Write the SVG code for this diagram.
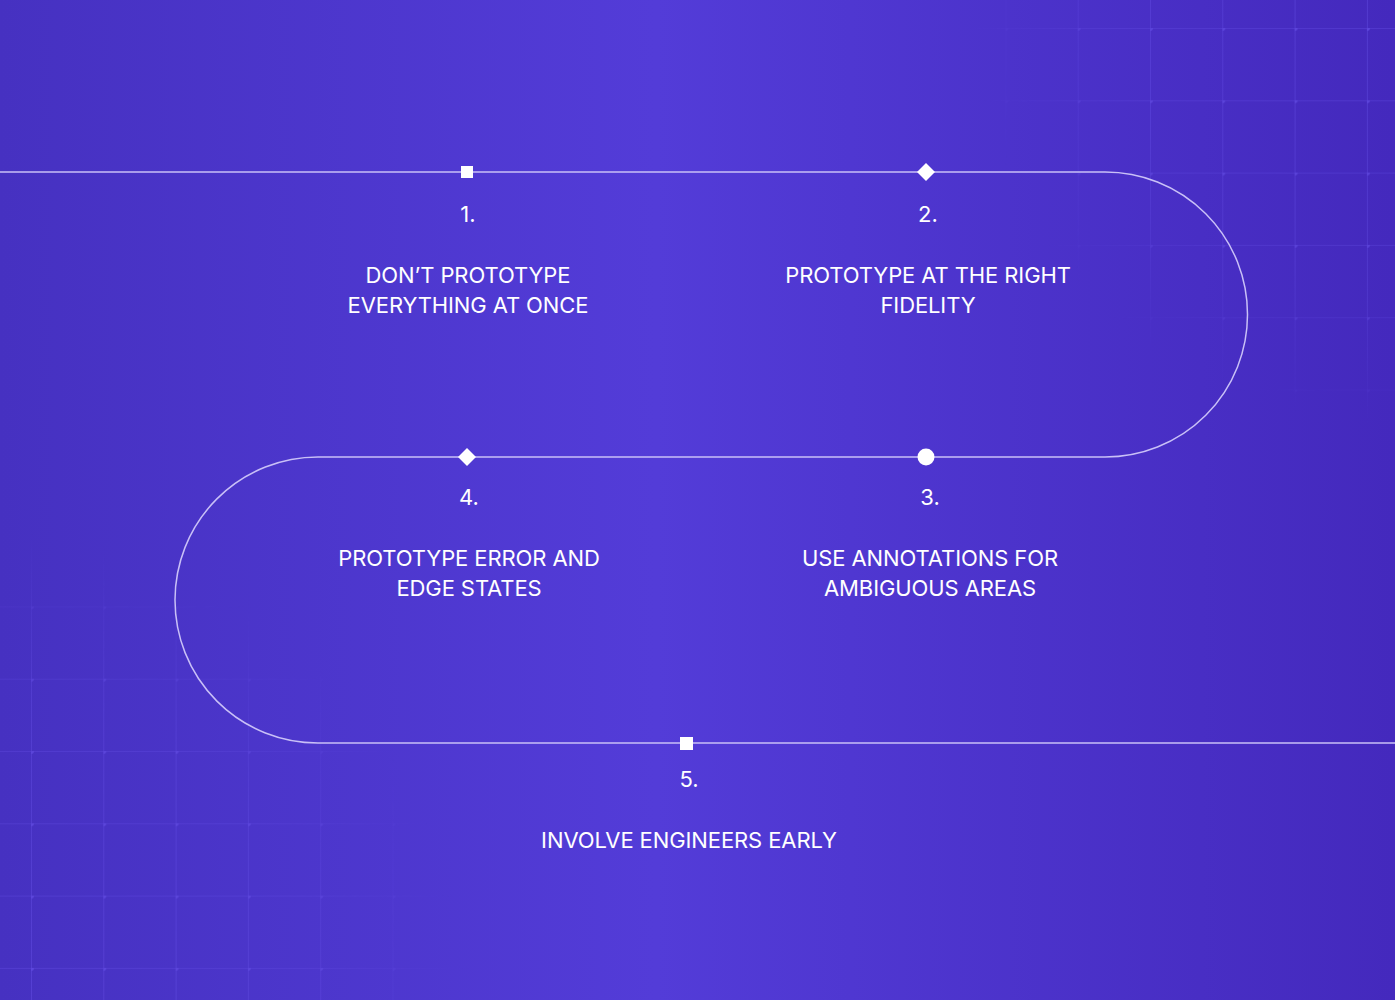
<svg xmlns="http://www.w3.org/2000/svg" width="1395" height="1000" viewBox="0 0 1395 1000">
<defs>
<linearGradient id="bg" x1="0" y1="0" x2="1" y2="0">
<stop offset="0" stop-color="#4631c1"/>
<stop offset="0.47" stop-color="#533cd8"/>
<stop offset="1" stop-color="#4429bd"/>
</linearGradient>
<radialGradient id="fadeTR" cx="1395" cy="0" r="430" gradientUnits="userSpaceOnUse">
<stop offset="0" stop-color="#fff" stop-opacity="1"/>
<stop offset="0.65" stop-color="#fff" stop-opacity="0.8"/>
<stop offset="1" stop-color="#fff" stop-opacity="0"/>
</radialGradient>
<radialGradient id="fadeBL" cx="0" cy="1000" r="470" gradientUnits="userSpaceOnUse">
<stop offset="0" stop-color="#fff" stop-opacity="1"/>
<stop offset="0.65" stop-color="#fff" stop-opacity="0.8"/>
<stop offset="1" stop-color="#fff" stop-opacity="0"/>
</radialGradient>
<mask id="mTR"><rect width="1395" height="1000" fill="url(#fadeTR)"/></mask>
<mask id="mBL"><rect width="1395" height="1000" fill="url(#fadeBL)"/></mask>
<pattern id="gridTR" x="1150" y="28" width="72.3" height="72.3" patternUnits="userSpaceOnUse">
<path d="M0 0H72.3M0 0V72.3" stroke="#6650e6" stroke-width="1.2" fill="none"/>
<circle cx="0" cy="0" r="3" fill="#6650e6"/>
</pattern>
<pattern id="gridBL" x="31" y="28" width="72.3" height="72.3" patternUnits="userSpaceOnUse">
<path d="M0 0H72.3M0 0V72.3" stroke="#6650e6" stroke-width="1.2" fill="none"/>
<circle cx="0" cy="0" r="3" fill="#6650e6"/>
</pattern>
<style>
.path{fill:none;stroke:#c9c0f7;stroke-width:1.5}
.mk{fill:#ffffff}
.num{font-family:Inter,"Liberation Sans",sans-serif;font-size:22px;fill:#ffffff;text-anchor:middle}
.lbl{font-family:Inter,"Liberation Sans",sans-serif;font-size:22px;fill:#ffffff;text-anchor:middle;letter-spacing:-0.1px}
</style>
</defs>
<rect width="1395" height="1000" fill="url(#bg)"/>
<rect width="1395" height="1000" fill="url(#gridTR)" mask="url(#mTR)" opacity="0.75"/>
<rect width="1395" height="1000" fill="url(#gridBL)" mask="url(#mBL)" opacity="0.75"/>
<g id="connectors">
<path class="path" d="M0 172H1105A142.5 142.5 0 0 1 1105 457H318A143 143 0 0 0 318 743H1395"/>
</g>
<g id="node1">
<rect class="mk" x="461" y="166" width="12" height="12"/>
<text class="num" x="468" y="222">1.</text>
<text class="lbl" x="468" y="283">DON’T PROTOTYPE</text>
<text class="lbl" x="468" y="313">EVERYTHING AT ONCE</text>
</g>
<g id="node2">
<polygon class="mk" points="926,163 935,172 926,181 917,172"/>
<text class="num" x="928" y="222">2.</text>
<text class="lbl" x="928" y="283">PROTOTYPE AT THE RIGHT</text>
<text class="lbl" x="928" y="313">FIDELITY</text>
</g>
<g id="node3">
<circle class="mk" cx="926" cy="457" r="8.5"/>
<text class="num" x="930" y="505">3.</text>
<text class="lbl" x="930" y="566">USE ANNOTATIONS FOR</text>
<text class="lbl" x="930" y="596">AMBIGUOUS AREAS</text>
</g>
<g id="node4">
<polygon class="mk" points="467,448 476,457 467,466 458,457"/>
<text class="num" x="469" y="505">4.</text>
<text class="lbl" x="469" y="566">PROTOTYPE ERROR AND</text>
<text class="lbl" x="469" y="596">EDGE STATES</text>
</g>
<g id="node5">
<rect class="mk" x="680" y="737" width="13" height="13"/>
<text class="num" x="689" y="787">5.</text>
<text class="lbl" x="689" y="848">INVOLVE ENGINEERS EARLY</text>
</g>
</svg>
